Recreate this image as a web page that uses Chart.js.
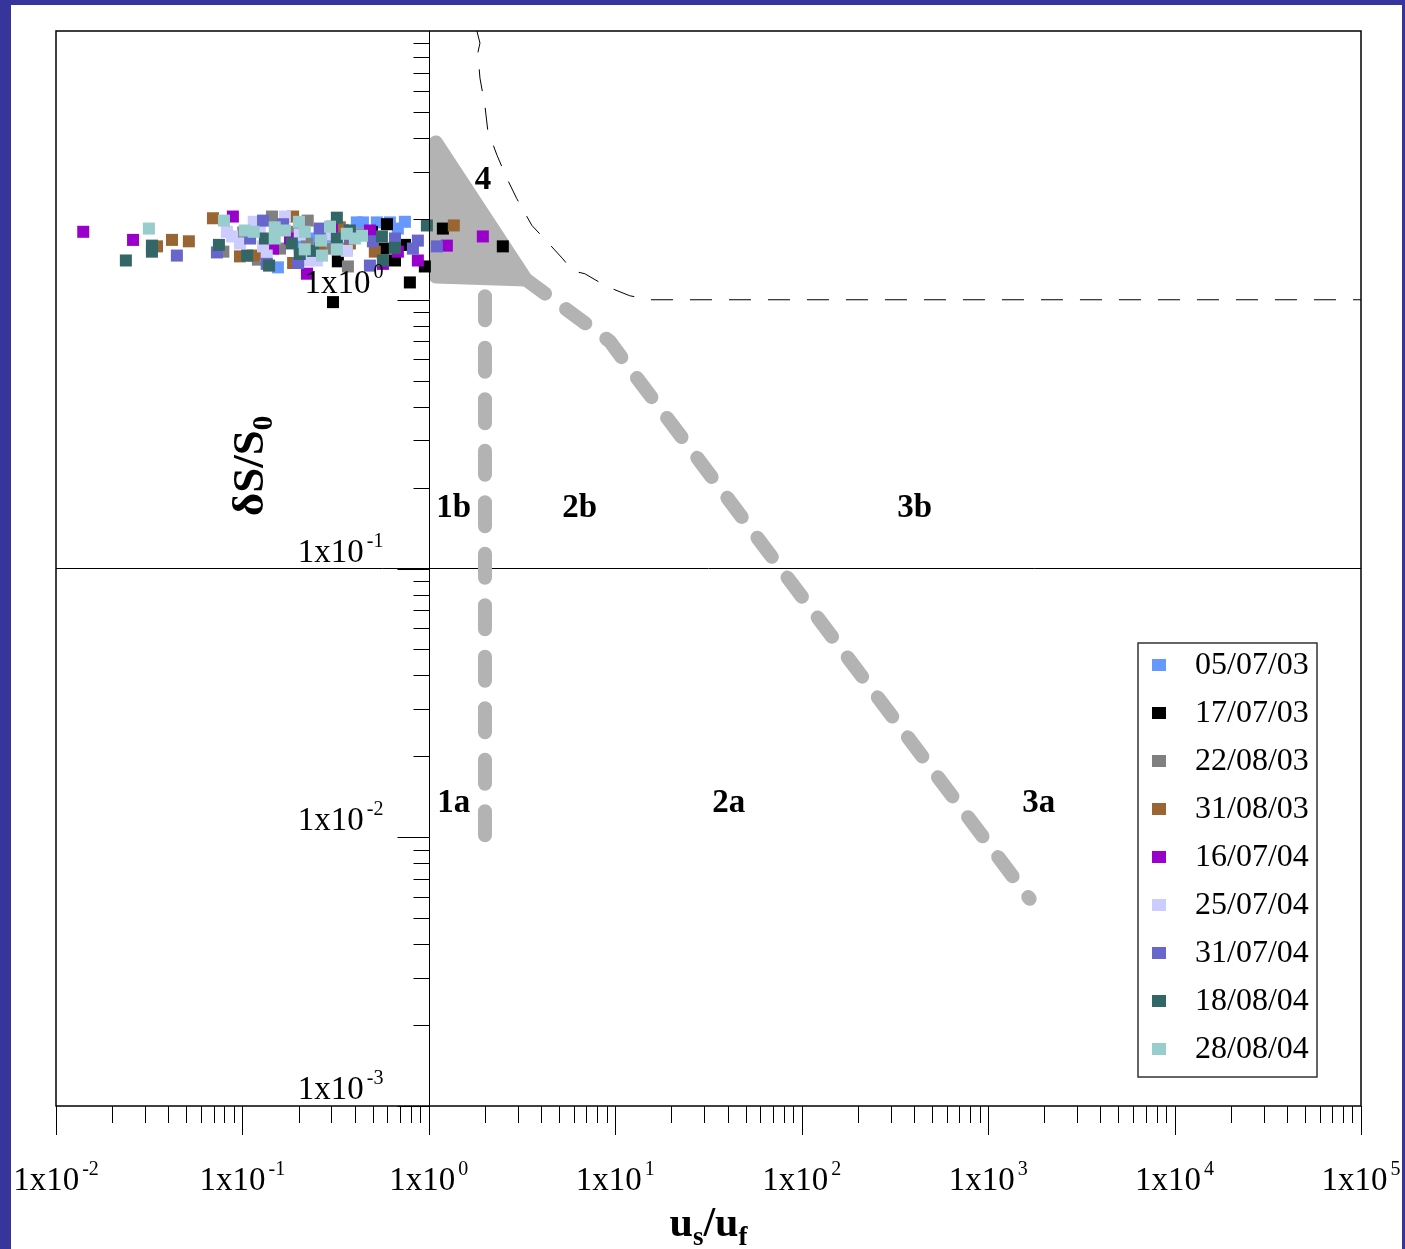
<!DOCTYPE html>
<html><head><meta charset="utf-8">
<script src="https://cdn.jsdelivr.net/npm/chart.js@4.4.1/dist/chart.umd.min.js"></script>
<style>
html,body{margin:0;padding:0;background:#fff;}
#wrap{position:relative;width:1405px;height:1249px;background:#35359b;overflow:hidden;}
#inner{position:absolute;left:11px;top:5px;right:3px;bottom:0;background:#fff;}
canvas{position:absolute;left:0;top:0;}
</style></head><body>
<div id="wrap"><div id="inner"></div><canvas id="c" width="1405" height="1249"></canvas></div>
<script>
// ---------- data ----------
const seriesLabels = ['05/07/03','17/07/03','22/08/03','31/08/03','16/07/04','25/07/04','31/07/04','18/08/04','28/08/04'];
const seriesColors = ['#6699ff','#000000','#808080','#996633','#9900cc','#ccccff','#6666cc','#336666','#99cccc'];

const x_050703 = [0.155, 0.260, 0.302, 0.411, 0.443, 0.526, 0.618, 0.744, 0.363, 0.203, 0.346, 0.682, 0.236];
const y_050703 = [1.32, 1.81, 1.72, 1.94, 1.94, 1.94, 1.94, 1.95, 1.55, 1.58, 1.82, 1.84, 1.69];
const x_170703 = [0.596, 0.495, 0.567, 0.744, 0.952, 0.791, 0.306, 0.325, 1.189, 2.493, 0.658];
const y_170703 = [1.91, 1.79, 1.55, 1.60, 1.33, 1.16, 0.98, 1.39, 1.84, 1.58, 1.40];
const x_220803 = [0.144, 0.224, 0.101, 0.079, 0.368, 0.194, 0.121, 0.222, 0.295, 0.159, 0.426];
const y_220803 = [2.04, 1.97, 1.78, 1.51, 1.33, 1.79, 1.41, 1.62, 1.55, 1.55, 1.75];
const x_310803 = [0.0695, 0.0348, 0.0419, 0.0516, 0.0970, 0.187, 0.187, 0.513, 0.333, 1.361, 0.114, 0.132, 0.260, 0.377];
const y_310803 = [2.01, 1.58, 1.67, 1.65, 1.45, 2.04, 1.37, 1.51, 1.86, 1.89, 1.46, 1.48, 1.55, 1.62];
const x_160704 = [0.0140, 0.0259, 0.0889, 0.222, 0.302, 0.682, 0.873, 0.146, 0.567, 1.948, 1.249, 0.483, 0.180];
const y_160704 = [1.79, 1.67, 2.04, 1.25, 1.87, 1.51, 1.40, 1.55, 1.36, 1.72, 1.59, 1.81, 1.69];
const x_250704 = [0.0826, 0.0879, 0.115, 0.169, 0.129, 0.135, 0.251, 0.363, 0.224, 0.165, 0.097, 0.203, 0.295, 0.124];
const y_250704 = [1.79, 1.72, 1.95, 2.04, 1.58, 1.46, 1.40, 1.52, 1.40, 1.87, 1.62, 1.75, 1.75, 1.81];
const x_310704 = [0.0445, 0.0730, 0.129, 0.165, 0.199, 0.483, 0.873, 1.104, 0.135, 0.501, 0.821, 0.110, 0.260, 0.377, 0.658];
const y_310704 = [1.46, 1.50, 1.97, 1.91, 1.37, 1.34, 1.66, 1.58, 1.36, 1.65, 1.55, 1.69, 1.84, 1.72, 1.69];
const x_180804 = [0.0237, 0.0327, 0.0327, 0.0748, 0.106, 0.139, 0.184, 0.239, 0.321, 0.321, 0.560, 0.658, 0.567, 0.976, 0.132, 0.203, 0.377];
const y_180804 = [1.40, 1.59, 1.51, 1.60, 1.46, 1.34, 1.62, 1.52, 2.02, 1.69, 1.72, 1.56, 1.40, 1.89, 1.69, 1.48, 1.81];
const x_280804 = [0.0315, 0.0796, 0.115, 0.149, 0.149, 0.201, 0.216, 0.264, 0.267, 0.321, 0.363, 0.438, 0.216, 0.103, 0.169, 0.295, 0.401];
const y_280804 = [1.84, 1.97, 1.79, 1.86, 1.69, 1.95, 1.79, 1.66, 1.46, 1.54, 1.76, 1.73, 1.54, 1.81, 1.81, 1.87, 1.69];
const seriesX = [x_050703, x_170703, x_220803, x_310803, x_160704, x_250704, x_310704, x_180804, x_280804];
const seriesY = [y_050703, y_170703, y_220803, y_310803, y_160704, y_250704, y_310704, y_180804, y_280804];

// regime boundaries
const region4_x = [1.09, 1.09, 3.31, 1.09];
const region4_y = [3.85, 1.22, 1.19, 3.85];
const bound1_x = [2.0, 2.0];
const bound1_y = [1.03, 0.0101];
const bound2_x = [3.31, 9.35, 11.2, 1670];
const bound2_y = [1.19, 0.70, 0.59, 0.0059];
const bound4_x = [1.81, 1.88, 1.83, 1.88, 2.0, 2.07, 2.32, 2.62, 2.96, 3.57, 4.29, 5.23, 5.92, 6.86, 9.00, 11.96, 15.3, 100000];
const bound4_y = [10.0, 9.02, 8.28, 6.68, 5.25, 4.27, 3.45, 2.83, 2.38, 1.89, 1.65, 1.42, 1.28, 1.25, 1.12, 1.035, 1.0, 1.0];
const refLine_x = [0.01, 100000];
const refLine_y = [0.1, 0.1];

// region labels
const regionText = ['4','1b','2b','3b','1a','2a','3a'];
const regionX = [1.95, 1.36, 6.45, 403, 1.36, 40.6, 1866];
const regionY = [2.78, 0.1675, 0.1675, 0.1675, 0.0134, 0.0134, 0.0134];

// axes
const xRange = [0.01, 100000];
const yRange = [0.001, 10];
const xTickExp = [-2,-1,0,1,2,3,4,5];
const yTickExp = [-3,-2,-1,0,1];
const yLabelExp = [-3,-2,-1,0];
const xTitle = ['u','s','/u','f'];
const yTitle = ['δS/S','0'];

// ---------- build ----------
const pts = (xs, ys) => xs.map((v, i) => ({x: v, y: ys[i]}));
const FONT = '"Liberation Serif","Times New Roman",Times,serif';

const datasets = [];
seriesLabels.forEach((lab, i) => {
  datasets.push({
    label: lab, data: pts(seriesX[i], seriesY[i]),
    pointStyle: 'rect', pointRadius: 8.5, pointHoverRadius: 8.5, pointBorderWidth: 0,
    backgroundColor: seriesColors[i], borderColor: seriesColors[i], showLine: false,
    order: 8 - i
  });
});
const GRAY = '#b3b3b3';
datasets.push({label:'r4', data: pts(region4_x, region4_y), showLine: true, fill: 'shape',
  backgroundColor: GRAY, borderColor: GRAY, borderWidth: 14, borderJoinStyle: 'round', borderCapStyle: 'round',
  pointRadius: 0, tension: 0, order: 50});
datasets.push({label:'b1', data: pts(bound1_x, bound1_y), showLine: true, fill: false,
  borderColor: GRAY, borderWidth: 14, borderCapStyle: 'round', borderDash: [24, 27.5],
  pointRadius: 0, tension: 0, order: 50});
datasets.push({label:'b2', data: pts(bound2_x, bound2_y), showLine: true, fill: false,
  borderColor: GRAY, borderWidth: 14, borderCapStyle: 'round', borderJoinStyle: 'round', borderDash: [24, 26],
  pointRadius: 0, tension: 0, order: 50});
datasets.push({label:'b4', data: pts(bound4_x, bound4_y), showLine: true, fill: false,
  borderColor: '#000', borderWidth: 1, borderDash: [22, 17],
  pointRadius: 0, tension: 0, order: 45});
datasets.push({label:'ref', data: pts(refLine_x, refLine_y), showLine: true, fill: false,
  borderColor: '#000', borderWidth: 1,
  pointRadius: 0, tension: 0, order: 60});

function drawPow(ctx, exp, x, baseY, align) {
  ctx.font = '33px ' + FONT;
  const base = '1x10';
  const wb = ctx.measureText(base).width;
  ctx.font = '20px ' + FONT;
  const sup = String(exp);
  const ws = ctx.measureText(sup).width;
  const gap = 3;
  const total = wb + gap + ws;
  const x0 = align === 'center' ? x - total / 2 : x - total;
  ctx.textAlign = 'left'; ctx.textBaseline = 'alphabetic';
  ctx.font = '33px ' + FONT; ctx.fillText(base, x0, baseY);
  ctx.font = '20px ' + FONT; ctx.fillText(sup, x0 + wb + gap, baseY - 15);
}

const decor = {
  id: 'decor',
  afterDatasetsDraw(chart) {
    const {ctx, chartArea: a, scales: {x, y}} = chart;
    ctx.save();
    ctx.fillStyle = '#000'; ctx.strokeStyle = '#000';
    // frame
    ctx.lineWidth = 1.5;
    ctx.strokeRect(a.left, a.top, a.right - a.left, a.bottom - a.top);
    // y axis line at x = 1
    const ax = Math.round(x.getPixelForValue(1)) + 0.5;
    ctx.lineWidth = 1;
    ctx.beginPath(); ctx.moveTo(ax, a.top); ctx.lineTo(ax, a.bottom); ctx.stroke();
    // y ticks
    ctx.beginPath();
    yTickExp.forEach(e => {
      const py = Math.round(y.getPixelForValue(Math.pow(10, e))) + 0.5;
      if (e < 1) { ctx.moveTo(ax - 32, py); ctx.lineTo(ax, py); }
      if (e < 1) for (let m = 2; m <= 9; m++) {
        const p = Math.round(y.getPixelForValue(m * Math.pow(10, e))) + 0.5;
        ctx.moveTo(ax - 16, p); ctx.lineTo(ax, p);
      }
    });
    // x ticks
    xTickExp.forEach(e => {
      const px = Math.round(x.getPixelForValue(Math.pow(10, e))) + 0.5;
      ctx.moveTo(px, a.bottom); ctx.lineTo(px, a.bottom + 29);
      if (e < 5) for (let m = 2; m <= 9; m++) {
        const p = Math.round(x.getPixelForValue(m * Math.pow(10, e))) + 0.5;
        ctx.moveTo(p, a.bottom); ctx.lineTo(p, a.bottom + 17);
      }
    });
    ctx.stroke();
    // tick labels
    xTickExp.forEach(e => drawPow(ctx, e, x.getPixelForValue(Math.pow(10, e)), a.bottom + 84, 'center'));
    yLabelExp.forEach(e => drawPow(ctx, e, ax - 46, y.getPixelForValue(Math.pow(10, e)) - 7, 'right'));
    // x title
    ctx.textAlign = 'left'; ctx.textBaseline = 'alphabetic';
    const big = 'bold 42px ' + FONT, small = 'bold 27px ' + FONT;
    ctx.font = big; const w0 = ctx.measureText(xTitle[0]).width, w2 = ctx.measureText(xTitle[2]).width;
    ctx.font = small; const w1 = ctx.measureText(xTitle[1]).width, w3 = ctx.measureText(xTitle[3]).width;
    let cx = (a.left + a.right) / 2 - (w0 + w1 + w2 + w3) / 2;
    const by = 1236;
    ctx.font = big; ctx.fillText(xTitle[0], cx, by); cx += w0;
    ctx.font = small; ctx.fillText(xTitle[1], cx, by + 9); cx += w1;
    ctx.font = big; ctx.fillText(xTitle[2], cx, by); cx += w2;
    ctx.font = small; ctx.fillText(xTitle[3], cx, by + 9);
    // y title (rotated)
    ctx.save();
    const bigY = 'bold 45px ' + FONT, smallY = 'bold 29px ' + FONT;
    ctx.translate(263, 466); ctx.rotate(-Math.PI / 2);
    ctx.font = bigY; const t0 = ctx.measureText(yTitle[0]).width;
    ctx.font = smallY; const t1 = ctx.measureText(yTitle[1]).width;
    let tx = -(t0 + t1) / 2;
    ctx.font = bigY; ctx.fillText(yTitle[0], tx, 0);
    ctx.font = smallY; ctx.fillText(yTitle[1], tx + t0, 9);
    ctx.restore();
    // region labels
    ctx.font = 'bold 33px ' + FONT; ctx.textAlign = 'center'; ctx.textBaseline = 'middle';
    regionText.forEach((t, i) => ctx.fillText(t, x.getPixelForValue(regionX[i]), y.getPixelForValue(regionY[i])));
    // legend
    const lx = 1138, ly = 643, lw = 179, lh = 434;
    ctx.fillStyle = '#fff'; ctx.fillRect(lx, ly, lw, lh);
    ctx.strokeStyle = '#333'; ctx.lineWidth = 1.5; ctx.strokeRect(lx, ly, lw, lh);
    ctx.font = '32px ' + FONT; ctx.textAlign = 'left'; ctx.textBaseline = 'middle';
    seriesLabels.forEach((lab, i) => {
      const yy = ly + 22 + i * 48;
      ctx.fillStyle = seriesColors[i];
      ctx.fillRect(lx + 14, yy - 6, 14, 12);
      ctx.fillStyle = '#000';
      ctx.fillText(lab, lx + 57, yy + 1);
    });
    ctx.restore();
  }
};

new Chart(document.getElementById('c'), {
  type: 'scatter',
  data: {datasets},
  options: {
    responsive: false, animation: false, devicePixelRatio: 1,
    layout: {padding: {left: 56, top: 31, right: 44, bottom: 143}},
    plugins: {legend: {display: false}, tooltip: {enabled: false}},
    scales: {
      x: {type: 'logarithmic', min: xRange[0], max: xRange[1], display: false},
      y: {type: 'logarithmic', min: yRange[0], max: yRange[1], display: false}
    }
  },
  plugins: [decor]
});
</script>
</body></html>
